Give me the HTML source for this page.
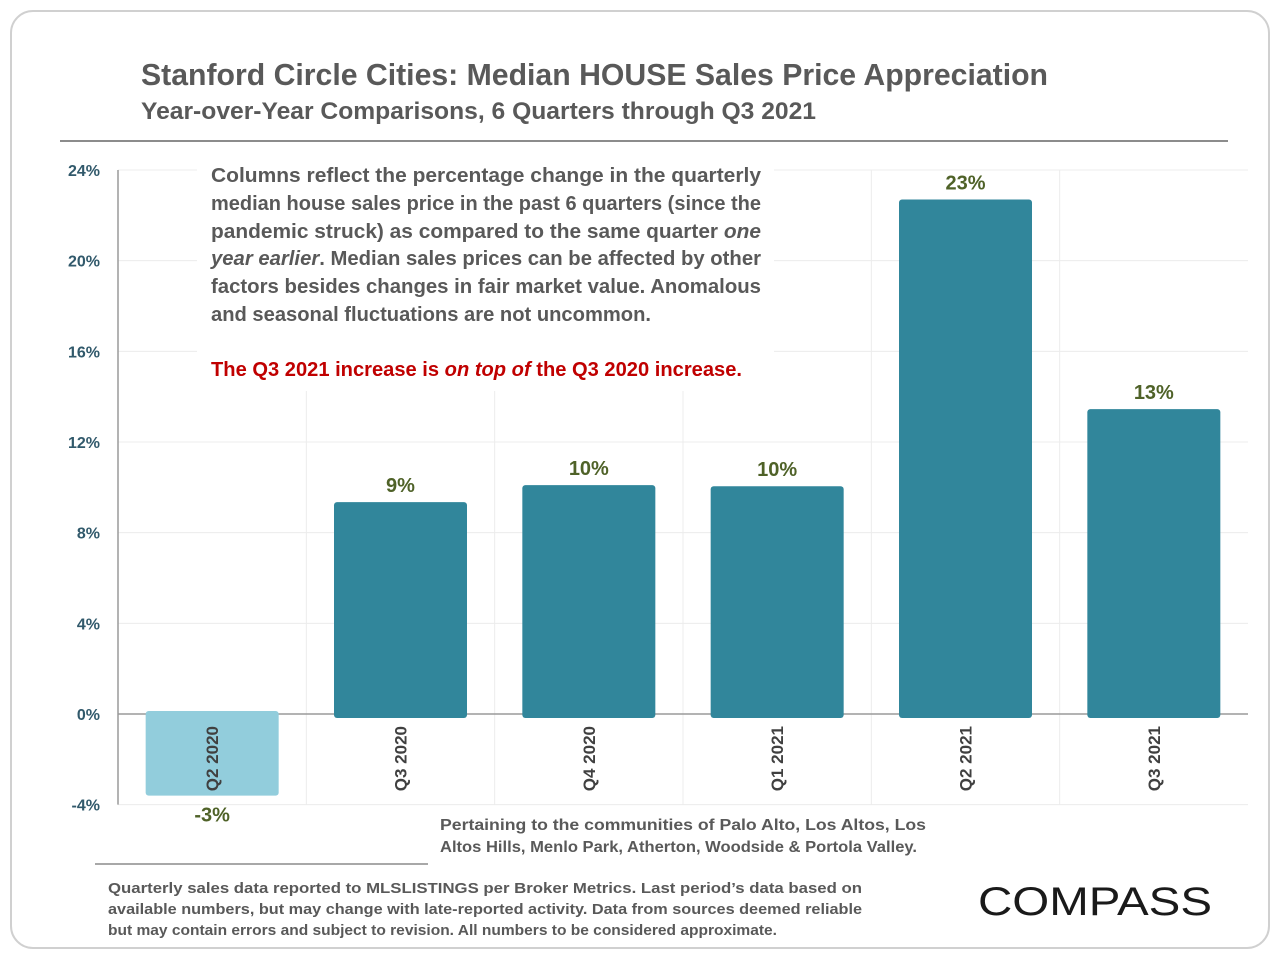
<!DOCTYPE html>
<html><head><meta charset="utf-8"><style>
body{margin:0;background:#fff;}
svg{display:block;font-family:"Liberation Sans",sans-serif;font-weight:bold;}
</style></head><body>
<svg id="chart" width="1280" height="960" viewBox="0 0 1280 960">
<rect x="11" y="11" width="1258" height="937" rx="22" fill="#fff" stroke="#d0d0d0" stroke-width="2"/>
<text x="141" y="85" font-size="31" fill="#595959" textLength="907" lengthAdjust="spacingAndGlyphs">Stanford Circle Cities: Median HOUSE Sales Price Appreciation</text>
<text x="141" y="119" font-size="24" fill="#595959" textLength="675" lengthAdjust="spacingAndGlyphs">Year-over-Year Comparisons, 6 Quarters through Q3 2021</text>
<line x1="60" y1="141" x2="1228" y2="141" stroke="#8c8c8c" stroke-width="2"/>
<g id="grid"></g>
<g id="bars"></g>
<rect x="197" y="158" width="577" height="233" fill="#fff"/>
<g font-size="20" fill="#595959">
<text x="211" y="182" textLength="550" lengthAdjust="spacingAndGlyphs">Columns reflect the percentage change in the quarterly</text>
<text x="211" y="210" textLength="550" lengthAdjust="spacingAndGlyphs">median house sales price in the past 6 quarters (since the</text>
<text x="211" y="238" textLength="550" lengthAdjust="spacingAndGlyphs">pandemic struck) as compared to the same quarter <tspan font-style="italic">one</tspan></text>
<text x="211" y="265" textLength="550" lengthAdjust="spacingAndGlyphs"><tspan font-style="italic">year earlier</tspan>. Median sales prices can be affected by other</text>
<text x="211" y="293" textLength="550" lengthAdjust="spacingAndGlyphs">factors besides changes in fair market value. Anomalous</text>
<text x="211" y="321" textLength="440" lengthAdjust="spacingAndGlyphs">and seasonal fluctuations are not uncommon.</text>
<text x="211" y="376" fill="#c00000" textLength="531" lengthAdjust="spacingAndGlyphs">The Q3 2021 increase is <tspan font-style="italic">on top of</tspan> the Q3 2020 increase.</text>
</g>
<g font-size="16" fill="#595959">
<text x="440" y="830" textLength="486" lengthAdjust="spacingAndGlyphs">Pertaining to the communities of Palo Alto, Los Altos, Los</text>
<text x="440" y="852" textLength="477" lengthAdjust="spacingAndGlyphs">Altos Hills, Menlo Park, Atherton, Woodside &amp; Portola Valley.</text>
</g>
<line x1="95" y1="864" x2="428" y2="864" stroke="#8c8c8c" stroke-width="1.5"/>
<g font-size="15" fill="#595959">
<text x="108" y="893" textLength="754" lengthAdjust="spacingAndGlyphs">Quarterly sales data reported to MLSLISTINGS per Broker Metrics. Last period’s data based on</text>
<text x="108" y="914" textLength="754" lengthAdjust="spacingAndGlyphs">available numbers, but may change with late-reported activity. Data from sources deemed reliable</text>
<text x="108" y="935" textLength="669" lengthAdjust="spacingAndGlyphs">but may contain errors and subject to revision. All numbers to be considered approximate.</text>
</g>
<text x="978" y="915" font-size="40" font-weight="normal" fill="#1a1a1a" textLength="234" lengthAdjust="spacingAndGlyphs">COMPASS</text>
</svg>
<script>
const categories=["Q2 2020","Q3 2020","Q4 2020","Q1 2021","Q2 2021","Q3 2021"];
const values=[-3.6,9.35,10.1,10.05,22.7,13.45];
const valueLabels=["-3%","9%","10%","10%","23%","13%"];
const yTicks=[-4,0,4,8,12,16,20,24];
const yTickLabels=["-4%","0%","4%","8%","12%","16%","20%","24%"];
const NS="http://www.w3.org/2000/svg";
const L=118,R=1248,y0=714,pxPer=22.667;
const bw=(R-L)/categories.length;
function y(v){return y0-v*pxPer;}
function x(i){return L+i*bw;}
function mk(t,a,p){const e=document.createElementNS(NS,t);for(const k in a)e.setAttribute(k,a[k]);p.appendChild(e);return e;}
const grid=document.getElementById('grid'),bars=document.getElementById('bars');
yTicks.forEach((t,i)=>{
 if(t!==0){const g=mk('line',{x1:L,x2:R,y1:y(t),y2:y(t),stroke:'#ececec','stroke-width':1},grid);
 
 }
 const tx=mk('text',{x:100,y:y(t)+6,'text-anchor':'end','font-size':16,fill:'#31596b'},grid);
 tx.textContent=yTickLabels[i];
 
 
});
for(let i=1;i<categories.length;i++){const v=mk('line',{x1:x(i),x2:x(i),y1:y(yTicks[yTicks.length-1]),y2:y(yTicks[0]),stroke:'#ececec','stroke-width':1},grid);
 
 }
const ax=mk('line',{x1:L,x2:L,y1:y(24),y2:y(-4),stroke:'#9a9a9a','stroke-width':1.5},grid);


const zl=mk('line',{x1:L,x2:R,y1:y0,y2:y0,stroke:'#9a9a9a','stroke-width':1.5},grid);


categories.forEach((c,i)=>{
 const v=values[i],cx=x(i)+bw/2,w=133;
 const top=v>=0?y(v):y(0)-3,bot=v>=0?y(0)+4:y(v);
 const b=mk('rect',{x:cx-w/2,y:top,width:w,height:bot-top,rx:3,fill:v>=0?'#31869b':'#92cddc'},bars);
 
 
 const lt=mk('text',{x:cx,y:v>=0?y(v)-10:y(v)+26,'text-anchor':'middle','font-size':20,fill:'#4f6228'},bars);
 lt.textContent=valueLabels[i];
 
 
 const ct=mk('text',{x:0,y:0,'text-anchor':'end','font-size':17,fill:'#404040',transform:`translate(${cx+6},${y0+12}) rotate(-90)`},bars);
 ct.textContent=c;
 
 
});
</script>
</body></html>
